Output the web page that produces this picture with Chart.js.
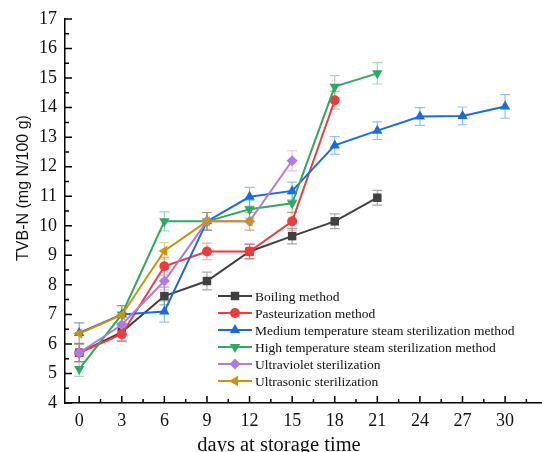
<!DOCTYPE html>
<html>
<head>
<meta charset="utf-8">
<script src="https://cdn.jsdelivr.net/npm/chart.js@4.4.1/dist/chart.umd.min.js"></script>
<style>
    html, body { margin: 0; padding: 0; background: #fff; }
    #wrap { width: 542px; height: 452px; }
</style>
</head>
<body>
<div id="wrap"><canvas id="tvbChart" width="542" height="452"></canvas></div>
<script>
const days = [0, 3, 6, 9, 12, 15, 18, 21, 24, 27, 30];
const xTicks = [0, 3, 6, 9, 12, 15, 18, 21, 24, 27, 30];
const yTicks = [4, 5, 6, 7, 8, 9, 10, 11, 12, 13, 14, 15, 16, 17];

const seriesNames = [
    'Boiling method',
    'Pasteurization method',
    'Medium temperature steam sterilization method',
    'High temperature steam sterilization method',
    'Ultraviolet sterilization',
    'Ultrasonic sterilization'
];

const boiling = [5.7, 6.4, 7.62, 8.13, 9.13, 9.65, 10.15, 10.95];
const pasteur = [5.7, 6.33, 8.63, 9.13, 9.13, 10.15, 14.25];
const medium = [6.37, 7.0, 7.1, 10.15, 10.98, 11.18, 12.72, 13.22, 13.7, 13.72, 14.04];
const high = [5.15, 7.0, 10.15, 10.15, 10.56, 10.76, 14.71, 15.16];
const uv = [5.7, 6.65, 8.13, 10.15, 10.15, 12.2];
const ultra = [6.35, 6.98, 9.15, 10.15, 10.15];

const boilingErr = [0.3, 0.3, 0.3, 0.3, 0.25, 0.26, 0.25, 0.25];
const pasteurErr = [0.3, 0.25, 0.3, 0.28, 0.24, 0.3, 0.3];
const mediumErr = [0.35, 0.3, 0.36, 0.3, 0.32, 0.3, 0.3, 0.3, 0.3, 0.3, 0.4];
const highErr = [0.25, 0.3, 0.32, 0.3, 0.3, 0.3, 0.37, 0.36];
const uvErr = [0.3, 0.3, 0.3, 0.3, 0.3, 0.34];
const ultraErr = [0.35, 0.3, 0.28, 0.3, 0.3];

const xTitle = 'days at storage time';
const yTitle = 'TVB-N (mg N/100 g)';

const colores = ['#404040', '#EE3B3B', '#1A6BE0', '#2EA862', '#B07AE0', '#C8960C'];
const barColores = ['rgba(64,64,64,0.45)', 'rgba(238,59,59,0.45)', 'rgba(26,107,224,0.45)',
    'rgba(46,168,98,0.45)', 'rgba(176,122,224,0.45)', 'rgba(200,150,12,0.45)'];
const estilos = ['rect', 'circle', 'triangle', 'triangle', 'rectRot', 'triangle'];
const rotaciones = [0, 0, 0, 180, 0, 270];
const radios = [6, 5, 6, 6, 5.5, 6];

const valores = [boiling, pasteur, medium, high, uv, ultra];
const errores = [boilingErr, pasteurErr, mediumErr, highErr, uvErr, ultraErr];

const serif = "'Liberation Serif', 'Times New Roman', serif";
const sans = "'Liberation Sans', Arial, sans-serif";

const datasets = valores.map((vals, i) => ({
    label: seriesNames[i],
    data: vals.map((v, j) => ({ x: days[j], y: v })),
    borderColor: colores[i],
    backgroundColor: colores[i],
    borderWidth: 2,
    pointStyle: estilos[i],
    rotation: rotaciones[i],
    pointRadius: radios[i],
    pointBorderWidth: 0,
    errs: errores[i],
    order: -i
}));

const decor = {
    id: 'decor',
    beforeDatasetsDraw(chart) {
        const { ctx, scales: { x, y } } = chart;
        ctx.save();
        ctx.lineWidth = 1.2;
        chart.data.datasets.forEach((ds, i) => {
            ctx.strokeStyle = barColores[i];
            ds.data.forEach((p, j) => {
                const px = x.getPixelForValue(p.x);
                const top = y.getPixelForValue(p.y + ds.errs[j]);
                const bot = y.getPixelForValue(p.y - ds.errs[j]);
                ctx.beginPath();
                ctx.moveTo(px, top); ctx.lineTo(px, bot);
                ctx.moveTo(px - 5, top); ctx.lineTo(px + 5, top);
                ctx.moveTo(px - 5, bot); ctx.lineTo(px + 5, bot);
                ctx.stroke();
            });
        });
        ctx.restore();
    },
    afterDraw(chart) {
        const { ctx, scales: { x, y }, chartArea: a } = chart;
        ctx.save();
        ctx.strokeStyle = '#000';
        ctx.lineWidth = 1.5;
        ctx.beginPath();
        xTicks.forEach((t) => {
            const px = x.getPixelForValue(t);
            ctx.moveTo(px, a.bottom); ctx.lineTo(px, a.bottom - 7);
            const pm = x.getPixelForValue(t + 1.5);
            if (pm < a.right) { ctx.moveTo(pm, a.bottom); ctx.lineTo(pm, a.bottom - 4); }
        });
        yTicks.forEach((t) => {
            const py = y.getPixelForValue(t);
            ctx.moveTo(a.left, py); ctx.lineTo(a.left + 7, py);
            if (t < 17) {
                const pm = y.getPixelForValue(t + 0.5);
                ctx.moveTo(a.left, pm); ctx.lineTo(a.left + 4, pm);
            }
        });
        ctx.stroke();

        // títulos de ejes
        ctx.fillStyle = '#111';
        ctx.font = `20.5px ${serif}`;
        ctx.textAlign = 'center';
        ctx.textBaseline = 'alphabetic';
        ctx.fillText(xTitle, 279, 451);
        ctx.save();
        ctx.translate(24, 188);
        ctx.rotate(-Math.PI / 2);
        ctx.font = `16px ${sans}`;
        ctx.textBaseline = 'middle';
        ctx.fillText(yTitle, 0, 0);
        ctx.restore();

        // leyenda dentro del área
        const lx = 218, ly = 296, paso = 17;
        ctx.font = `13.5px ${serif}`;
        ctx.textAlign = 'left';
        ctx.textBaseline = 'middle';
        chart.data.datasets.forEach((ds, i) => {
            const yy = ly + i * paso;
            ctx.strokeStyle = colores[i];
            ctx.fillStyle = colores[i];
            ctx.lineWidth = 2;
            ctx.beginPath();
            ctx.moveTo(lx, yy); ctx.lineTo(lx + 34, yy);
            ctx.stroke();
            Chart.helpers.drawPoint(ctx, { pointStyle: estilos[i], rotation: rotaciones[i], radius: radios[i], borderWidth: 0 }, lx + 17, yy);
            ctx.fillStyle = '#111';
            ctx.fillText(ds.label, lx + 37, yy + 1);
        });
        ctx.restore();
    }
};

new Chart(document.getElementById('tvbChart').getContext('2d'), {
    type: 'line',
    data: { datasets },
    options: {
        responsive: false,
        animation: false,
        layout: { autoPadding: false, padding: { top: 19, right: 0, left: 0, bottom: 0 } },
        plugins: { legend: { display: false }, tooltip: { enabled: false } },
        scales: {
            x: {
                type: 'linear',
                min: -1,
                max: 32.6,
                afterBuildTicks: (s) => { s.ticks = xTicks.map((v) => ({ value: v })); },
                afterFit: (s) => { s.height = 49; s.paddingLeft = 0; s.paddingRight = 0; },
                grid: { display: false, drawTicks: false },
                border: { display: true, color: '#000', width: 1.5 },
                ticks: { color: '#111', font: { family: serif, size: 18 }, padding: 7, maxRotation: 0 }
            },
            y: {
                min: 4,
                max: 17,
                afterBuildTicks: (s) => { s.ticks = yTicks.map((v) => ({ value: v })); },
                afterFit: (s) => { s.width = 65; s.paddingTop = 0; s.paddingBottom = 0; },
                grid: { display: false, drawTicks: false },
                border: { display: true, color: '#000', width: 1.5 },
                ticks: { color: '#111', font: { family: serif, size: 18 }, padding: 8 }
            }
        }
    },
    plugins: [decor]
});
</script>
</body>
</html>
